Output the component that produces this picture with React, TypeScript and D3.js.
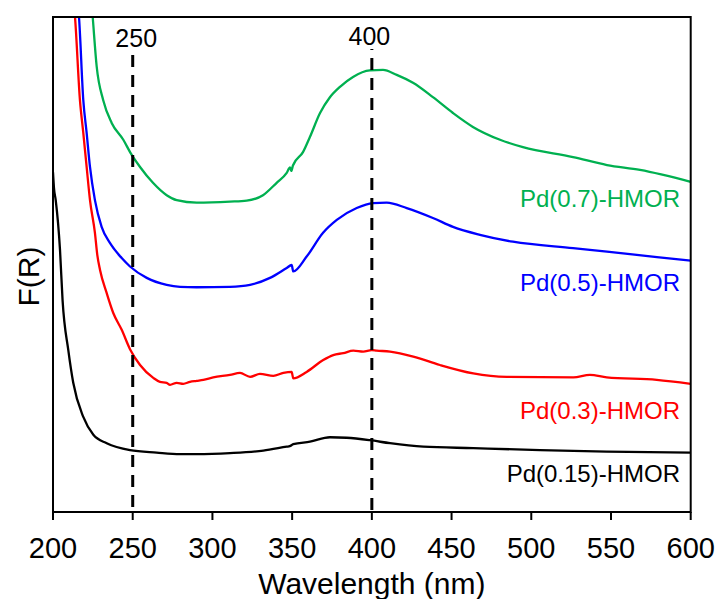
import React from "react";
import * as d3 from "d3";

// Diffuse-reflectance UV-vis spectra, Kubelka-Munk F(R) in arbitrary units
type Pt = [number, number];

const pd015: Pt[] = [
  [200, 68.6], [200.6, 65.5], [201.7, 63.0], [204.4, 52.9], [206.0, 42.8], [209.6, 32.7],
  [212.7, 26.1], [219.0, 19.2], [225.3, 15.6], [233.7, 13.9], [248.3, 12.5], [265.0, 12.0],
  [279.7, 11.7], [290.1, 11.7], [311.0, 11.9], [331.9, 12.4], [346.6, 13.2], [348.5, 13.3],
  [350.7, 13.7], [361.2, 14.2], [373.7, 15.1], [384.2, 15.0], [398.8, 14.5], [411.4, 13.9],
  [432.3, 13.2], [463.6, 12.9], [505.5, 12.5], [547.3, 12.2], [600, 12.0],
];

const pd03: Pt[] = [
  [213.0, 103], [213.8, 100], [216.9, 83.2], [219.0, 76.6], [221.1, 69.7], [223.2, 63.0],
  [226.3, 56.4], [227.8, 51.9], [229.5, 48.9], [233.7, 44.2], [237.8, 40.2], [243.1, 36.8],
  [248.3, 32.9], [254.6, 29.7], [262.9, 27.1], [267.1, 26.3], [271.3, 26.1], [273.4, 25.7],
  [277.6, 26.1], [281.7, 25.9], [285.9, 26.3], [290.1, 26.5], [294.3, 26.7], [300.5, 27.2],
  [311.0, 27.7], [317.3, 28.1], [323.6, 27.3], [329.8, 27.9], [338.2, 27.5], [344.5, 28.1],
  [349.7, 28.3], [350.7, 27.0], [359.1, 28.3], [369.5, 30.7], [375.8, 31.7], [382.1, 32.1],
  [388.4, 32.6], [394.6, 32.4], [399.9, 32.7], [403.0, 32.6], [411.4, 32.4], [426.0, 31.4],
  [442.7, 29.7], [463.6, 28.0], [484.6, 27.3], [526.4, 27.2], [536.8, 27.7], [547.3, 27.2],
  [578.7, 26.7], [600, 25.9],
];

const pd05: Pt[] = [
  [215.5, 103], [216.3, 100.0], [219.0, 83.2], [221.1, 76.6], [223.2, 69.7], [226.3, 63.0],
  [230.5, 57.6], [235.8, 54.3], [243.1, 51.3], [248.3, 49.6], [258.8, 47.3], [271.3, 45.9],
  [279.7, 45.5], [290.1, 45.4], [311.0, 45.5], [323.6, 45.9], [336.1, 47.3], [346.6, 49.3],
  [349.7, 49.9], [350.7, 48.6], [359.1, 51.6], [369.4, 56.4], [378.0, 59.0], [390.5, 61.4],
  [400.7, 62.4], [409.3, 62.5], [421.9, 61.4], [438.3, 59.4], [450.9, 57.6], [467.8, 56.0],
  [488.5, 54.6], [526.2, 53.3], [547.5, 52.6], [578.8, 51.5], [600, 50.8],
];

const pd07: Pt[] = [
  [223.8, 104.4], [224.9, 100.0], [227.4, 90.0], [231.5, 83.2], [236.8, 78.6], [244.1, 75.2],
  [248.7, 72.5], [254.6, 69.7], [262.7, 66.5], [271.3, 64.0], [277.6, 63.0], [290.1, 62.5],
  [311.0, 62.7], [321.5, 62.9], [331.7, 64.0], [340.3, 66.5], [346.6, 68.5], [348.7, 69.6],
  [349.5, 68.9], [350.5, 70.0], [356.8, 72.7], [361.2, 75.8], [367.5, 80.6], [373.7, 83.8],
  [380.0, 85.9], [388.2, 87.9], [398.8, 89.2], [407.0, 89.3], [415.6, 88.3], [425.8, 86.7],
  [438.3, 83.8], [450.9, 80.6], [463.4, 77.8], [480.4, 75.2], [494.8, 73.7], [526.2, 71.7],
  [547.5, 70.1], [568.2, 69.1], [600, 66.7],
];

const seriesNames = ["Pd(0.15)-HMOR", "Pd(0.3)-HMOR", "Pd(0.5)-HMOR", "Pd(0.7)-HMOR"];
const seriesData = [pd015, pd03, pd05, pd07];
const seriesColors = ["#000000", "#FF0000", "#0000FF", "#00B050"];
// Label anchor heights in F(R) units, right-aligned near 600 nm
const labelLevels = [6.1, 18.8, 44.6, 61.6];

const markerWavelengths = [250, 400];
const xTicks = [200, 250, 300, 350, 400, 450, 500, 550, 600];

const FONT = "'Liberation Sans', Arial, Helvetica, sans-serif";

export default function App() {
  const W = 718;
  const H = 599;
  const left = 53;
  const right = 690.7;
  const top = 17;
  const bottom = 512;

  const x = d3.scaleLinear().domain([200, 600]).range([left, right]);
  const y = d3.scaleLinear().domain([0, 100]).range([bottom, top]);

  const line = d3
    .line<Pt>()
    .x((d) => x(d[0]))
    .y((d) => y(d[1]))
    .curve(d3.curveMonotoneX);

  const markerTops = [55, 49];
  const markerOffsets = [0, 11];
  const markerLabelY = [46.5, 45];
  const markerLabelShift = [3.5, -2.5];

  return (
    <svg
      width={W}
      height={H}
      style={{ position: "absolute", left: 0, top: 0, background: "#fff" }}
      fontFamily={FONT}
    >
      <defs>
        <clipPath id="plot-clip">
          <rect x={left} y={top} width={right - left} height={bottom - top} />
        </clipPath>
      </defs>

      {/* spectra */}
      <g clipPath="url(#plot-clip)">
        {seriesData.map((s, i) => (
          <path
            key={seriesNames[i]}
            d={line(s) ?? ""}
            fill="none"
            stroke={seriesColors[i]}
            strokeWidth={2.3}
            strokeLinejoin="round"
          />
        ))}
      </g>

      {/* reference wavelengths */}
      {markerWavelengths.map((w, i) => (
        <g key={w}>
          <line
            x1={x(w)}
            x2={x(w)}
            y1={markerTops[i]}
            y2={bottom}
            stroke="#000"
            strokeWidth={3}
            strokeDasharray="12 8"
            strokeDashoffset={markerOffsets[i]}
          />
          <text
            x={x(w) + markerLabelShift[i]}
            y={markerLabelY[i]}
            fontSize={25}
            textAnchor="middle"
            fill="#000"
          >
            {w}
          </text>
        </g>
      ))}

      {/* series labels */}
      {seriesNames.map((n, i) => (
        <text
          key={n}
          x={680}
          y={y(labelLevels[i])}
          fontSize={24}
          textAnchor="end"
          fill={seriesColors[i]}
        >
          {n}
        </text>
      ))}

      {/* frame */}
      <rect
        x={left}
        y={top}
        width={right - left}
        height={bottom - top}
        fill="none"
        stroke="#000"
        strokeWidth={2}
      />

      {/* x axis ticks */}
      {xTicks.map((t) => (
        <g key={t}>
          <line x1={x(t)} x2={x(t)} y1={bottom} y2={bottom + 8} stroke="#000" strokeWidth={2} />
          <text x={x(t)} y={558} fontSize={29} textAnchor="middle" fill="#000">
            {t}
          </text>
        </g>
      ))}

      <text x={(left + right) / 2} y={594} fontSize={30} textAnchor="middle" fill="#000">
        Wavelength (nm)
      </text>
      <text
        transform={`translate(39, ${(top + bottom) / 2 + 12}) rotate(-90)`}
        fontSize={30}
        textAnchor="middle"
        fill="#000"
      >
        F(R)
      </text>
    </svg>
  );
}
